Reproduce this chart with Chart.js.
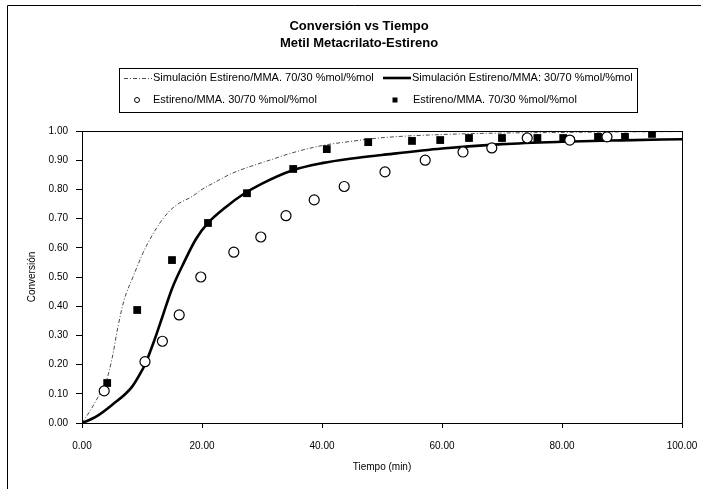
<!DOCTYPE html>
<html>
<head>
<meta charset="utf-8">
<script src="https://cdn.jsdelivr.net/npm/chart.js@4"></script>
<style>
  html, body { margin: 0; padding: 0; background: #fff; }
  #wrap { width: 701px; height: 489px; position: relative; }
</style>
</head>
<body>
<div id="wrap"><canvas id="c" width="701" height="489"></canvas></div>
<script>
// ---- Data ----
const chartTitle = ["Conversión vs Tiempo", "Metil Metacrilato-Estireno"];
const xAxisTitle = "Tiempo (min)";
const yAxisTitle = "Conversión";

const seriesLabels = [
  "Simulación Estireno/MMA. 70/30 %mol/%mol",
  "Simulación Estireno/MMA: 30/70 %mol/%mol",
  "Estireno/MMA. 30/70 %mol/%mol",
  "Estireno/MMA. 70/30 %mol/%mol"
];

// Simulation 70/30 (thin dash-dot)
const sim7030Time = [0, 1.3, 2.6, 4, 5, 6, 7, 8.5, 10, 11, 12.5, 14.3, 16, 18.3, 20, 22.2, 25, 28.3, 32, 35, 40, 45, 50, 60, 70, 80, 90, 100];
const sim7030Conv = [0, 0.04, 0.086, 0.14, 0.22, 0.33, 0.42, 0.5, 0.575, 0.617, 0.67, 0.72, 0.75, 0.775, 0.80, 0.825, 0.855, 0.88, 0.905, 0.925, 0.95, 0.965, 0.977, 0.988, 0.993, 0.995, 0.997, 0.998];

// Simulation 30/70 (thick solid)
const sim3070Time = [0, 2.2, 5, 8.3, 10, 10.5, 12, 13.5, 15, 17, 19, 21, 24, 27, 30, 35, 40, 45, 50, 60, 70, 80, 90, 100];
const sim3070Conv = [0, 0.02, 0.062, 0.123, 0.18, 0.2, 0.28, 0.37, 0.46, 0.55, 0.63, 0.685, 0.74, 0.785, 0.82, 0.865, 0.89, 0.906, 0.918, 0.94, 0.955, 0.963, 0.968, 0.972];

// Experimental 30/70 (open circles)
const exp3070Time = [3.7, 10.5, 13.4, 16.2, 19.8, 25.3, 29.8, 34.0, 38.7, 43.7, 50.5, 57.2, 63.5, 68.3, 74.2, 81.3, 87.5];
const exp3070Conv = [0.11, 0.21, 0.28, 0.37, 0.50, 0.585, 0.637, 0.71, 0.764, 0.81, 0.86, 0.90, 0.928, 0.942, 0.976, 0.969, 0.98];

// Experimental 70/30 (filled squares)
const exp7030Time = [4.2, 9.2, 15.0, 21.0, 27.5, 35.2, 40.8, 47.7, 55.0, 59.7, 64.5, 70.0, 75.9, 80.2, 86.0, 90.5, 95.0];
const exp7030Conv = [0.137, 0.387, 0.558, 0.685, 0.787, 0.87, 0.938, 0.962, 0.966, 0.969, 0.976, 0.976, 0.976, 0.976, 0.98, 0.98, 0.99];

const xTickValues = [0, 20, 40, 60, 80, 100];
const yTickValues = [0, 0.1, 0.2, 0.3, 0.4, 0.5, 0.6, 0.7, 0.8, 0.9, 1.0];

// ---- Build ----
const pts = (xs, ys) => xs.map((x, i) => ({ x: x, y: ys[i] }));
const FONT = "'Liberation Sans', Arial, sans-serif";

const datasets = [
  { label: seriesLabels[0], data: pts(sim7030Time, sim7030Conv), showLine: true, pointRadius: 0,
    borderColor: '#4a4a4a', borderWidth: 1, borderDash: [4, 2, 1, 2], cubicInterpolationMode: 'monotone', order: 2 },
  { label: seriesLabels[1], data: pts(sim3070Time, sim3070Conv), showLine: true, pointRadius: 0,
    borderColor: '#000', borderWidth: 2.6, cubicInterpolationMode: 'monotone', order: 1 },
  { label: seriesLabels[2], data: pts(exp3070Time, exp3070Conv), showLine: false, pointStyle: 'circle',
    pointRadius: 5, pointBorderWidth: 1.2, pointBorderColor: '#000', pointBackgroundColor: '#fff', order: 0 },
  { label: seriesLabels[3], data: pts(exp7030Time, exp7030Conv), showLine: false, pointStyle: 'rect',
    pointRadius: 5.5, pointBorderWidth: 0, pointBorderColor: '#000', pointBackgroundColor: '#000', order: 0 }
];

const decorPlugin = {
  id: 'decor',
  afterDraw(chart) {
    const ctx = chart.ctx;
    const a = chart.chartArea;
    ctx.save();
    // plot frame
    ctx.strokeStyle = '#000';
    ctx.lineWidth = 1;
    ctx.setLineDash([]);
    ctx.strokeRect(Math.round(a.left) + 0.5, Math.round(a.top) + 0.5, Math.round(a.right - a.left), Math.round(a.bottom - a.top));
    // outer border (left/top)
    ctx.beginPath();
    ctx.moveTo(7.5, 489); ctx.lineTo(7.5, 5.5); ctx.lineTo(701, 5.5);
    ctx.stroke();

    // title
    ctx.fillStyle = '#000';
    ctx.textAlign = 'center';
    ctx.textBaseline = 'middle';
    ctx.font = 'bold 13px ' + FONT;
    ctx.fillText(chartTitle[0], 359, 26);
    ctx.fillText(chartTitle[1], 359, 43);

    // legend box
    ctx.strokeRect(119.5, 68.5, 518, 44);
    ctx.font = '11px ' + FONT;
    ctx.textAlign = 'left';
    const ds = chart.data.datasets;
    const row1 = 78, row2 = 100;
    ctx.strokeStyle = ds[0].borderColor; ctx.lineWidth = ds[0].borderWidth; ctx.setLineDash(ds[0].borderDash);
    ctx.beginPath(); ctx.moveTo(124, row1 + 0.5); ctx.lineTo(152, row1 + 0.5); ctx.stroke();
    ctx.fillText(ds[0].label, 153, row1);
    ctx.setLineDash([]);
    ctx.strokeStyle = ds[1].borderColor; ctx.lineWidth = ds[1].borderWidth;
    ctx.beginPath(); ctx.moveTo(383, row1); ctx.lineTo(411, row1); ctx.stroke();
    ctx.fillText(ds[1].label, 412, row1);
    ctx.strokeStyle = '#000'; ctx.lineWidth = 1;
    ctx.beginPath(); ctx.arc(137, row2, 2.5, 0, Math.PI * 2); ctx.fillStyle = '#fff'; ctx.fill(); ctx.stroke();
    ctx.fillStyle = '#000';
    ctx.fillText(ds[2].label, 153, row2);
    ctx.fillRect(392.5, row2 - 2.5, 5, 5);
    ctx.fillText(ds[3].label, 413, row2);
    ctx.restore();
  }
};

new Chart(document.getElementById('c'), {
  type: 'scatter',
  data: { datasets: datasets },
  options: {
    responsive: false,
    animation: false,
    layout: { padding: { left: 8, right: 19, top: 131, bottom: 0 } },
    plugins: { legend: { display: false }, title: { display: false }, tooltip: { enabled: false } },
    scales: {
      x: {
        type: 'linear', min: 0, max: 100,
        afterBuildTicks: (s) => { s.ticks = xTickValues.map(v => ({ value: v })); },
        afterFit: (s) => { s.height = 66; s.paddingLeft = 0; s.paddingRight = 0; },
        ticks: { color: '#000', font: { family: FONT, size: 10 }, padding: 12, maxRotation: 0,
                 callback: (v) => Number(v).toFixed(2) },
        grid: { drawOnChartArea: false, drawTicks: true, tickLength: 5, color: '#000' },
        border: { color: '#000', width: 1 },
        title: { display: true, text: xAxisTitle, color: '#000', font: { family: FONT, size: 10 }, padding: { top: 0, bottom: 16 } }
      },
      y: {
        type: 'linear', min: 0, max: 1,
        afterBuildTicks: (s) => { s.ticks = yTickValues.map(v => ({ value: v })); },
        afterFit: (s) => { s.width = 74; s.paddingTop = 0; s.paddingBottom = 0; },
        ticks: { color: '#000', font: { family: FONT, size: 10 }, padding: 8,
                 callback: (v) => Number(v).toFixed(2) },
        grid: { drawOnChartArea: false, drawTicks: true, tickLength: 6, color: '#000' },
        border: { color: '#000', width: 1 },
        title: { display: true, text: yAxisTitle, color: '#000', font: { family: FONT, size: 10 }, padding: { top: 18, bottom: 0 } }
      }
    }
  },
  plugins: [decorPlugin]
});
</script>
</body>
</html>
